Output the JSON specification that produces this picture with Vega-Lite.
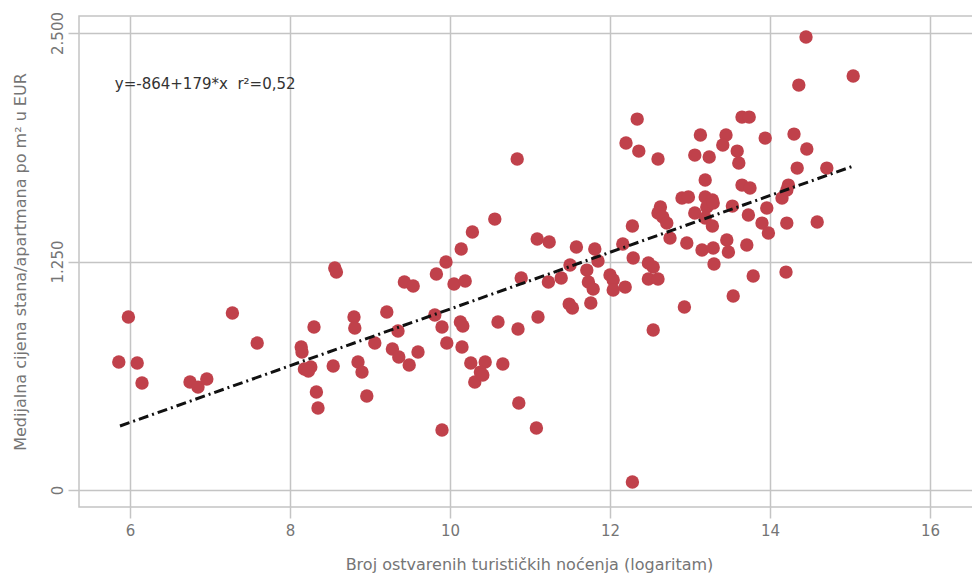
{
  "$schema": "https://vega.github.io/schema/vega-lite/v6.json",
  "width": 900,
  "height": 491,
  "autosize": "none",
  "padding": {"left": 79, "top": 16, "right": 0, "bottom": 69},
  "background": "white",
  "config": {
    "view": {"stroke": "#c4c4c4", "strokeWidth": 1.5},
    "font": "DejaVu Sans"
  },
  "datasets": {
    "pts": [
      {"x": 5.86, "y": 700}, {"x": 5.98, "y": 946}, {"x": 6.09, "y": 695}, {"x": 6.15, "y": 585},
      {"x": 7.28, "y": 968}, {"x": 7.59, "y": 804}, {"x": 6.75, "y": 591}, {"x": 6.85, "y": 563},
      {"x": 6.96, "y": 607}, {"x": 8.14, "y": 782}, {"x": 8.15, "y": 755}, {"x": 8.18, "y": 662},
      {"x": 8.26, "y": 673}, {"x": 8.23, "y": 651}, {"x": 8.30, "y": 892}, {"x": 8.33, "y": 536},
      {"x": 8.35, "y": 449}, {"x": 8.54, "y": 678}, {"x": 8.56, "y": 1214}, {"x": 8.58, "y": 1192},
      {"x": 8.80, "y": 946}, {"x": 8.81, "y": 886}, {"x": 8.85, "y": 700}, {"x": 8.90, "y": 645},
      {"x": 8.96, "y": 514}, {"x": 9.06, "y": 804}, {"x": 9.21, "y": 974}, {"x": 9.35, "y": 870},
      {"x": 9.28, "y": 771}, {"x": 9.36, "y": 728}, {"x": 9.49, "y": 684}, {"x": 9.60, "y": 755},
      {"x": 9.43, "y": 1138}, {"x": 9.54, "y": 1116},
      {"x": 9.95, "y": 1247}, {"x": 9.83, "y": 1182}, {"x": 10.05, "y": 1127}, {"x": 10.19, "y": 1143},
      {"x": 10.14, "y": 1318}, {"x": 10.28, "y": 1411}, {"x": 10.56, "y": 1482}, {"x": 10.84, "y": 1811},
      {"x": 9.81, "y": 957}, {"x": 9.90, "y": 892}, {"x": 10.13, "y": 919}, {"x": 10.16, "y": 897},
      {"x": 9.96, "y": 804}, {"x": 10.15, "y": 782}, {"x": 10.26, "y": 695}, {"x": 10.44, "y": 700},
      {"x": 10.38, "y": 645}, {"x": 10.31, "y": 591}, {"x": 10.41, "y": 629}, {"x": 10.66, "y": 689},
      {"x": 10.86, "y": 476}, {"x": 11.08, "y": 339}, {"x": 9.90, "y": 328}, {"x": 10.60, "y": 919},
      {"x": 10.85, "y": 881}, {"x": 11.10, "y": 946}, {"x": 11.09, "y": 1373}, {"x": 11.24, "y": 1357},
      {"x": 10.89, "y": 1160}, {"x": 11.23, "y": 1138}, {"x": 11.39, "y": 1160}, {"x": 11.50, "y": 1231},
      {"x": 11.58, "y": 1329}, {"x": 11.81, "y": 1318}, {"x": 11.85, "y": 1253}, {"x": 11.71, "y": 1203},
      {"x": 11.73, "y": 1138}, {"x": 11.79, "y": 1099}, {"x": 11.49, "y": 1017}, {"x": 11.53, "y": 996},
      {"x": 11.76, "y": 1023}, {"x": 12.00, "y": 1176}, {"x": 12.04, "y": 1149}, {"x": 12.04, "y": 1094},
      {"x": 12.19, "y": 1110}, {"x": 12.16, "y": 1346}, {"x": 12.29, "y": 1269}, {"x": 12.48, "y": 1242},
      {"x": 12.54, "y": 1220}, {"x": 12.48, "y": 1154}, {"x": 12.60, "y": 1154}, {"x": 12.54, "y": 875},
      {"x": 12.93, "y": 1001}, {"x": 12.28, "y": 44}, {"x": 12.34, "y": 2029}, {"x": 12.20, "y": 1898},
      {"x": 12.36, "y": 1854}, {"x": 12.60, "y": 1811}, {"x": 12.75, "y": 1378}, {"x": 12.96, "y": 1351},
      {"x": 13.15, "y": 1313}, {"x": 13.29, "y": 1324}, {"x": 13.46, "y": 1368}, {"x": 13.48, "y": 1302},
      {"x": 13.30, "y": 1236}, {"x": 13.54, "y": 1061}, {"x": 12.28, "y": 1444}, {"x": 12.63, "y": 1548},
      {"x": 12.60, "y": 1515}, {"x": 12.66, "y": 1493}, {"x": 12.71, "y": 1460}, {"x": 12.90, "y": 1597},
      {"x": 12.98, "y": 1603}, {"x": 13.19, "y": 1603}, {"x": 13.28, "y": 1586}, {"x": 13.21, "y": 1548},
      {"x": 13.06, "y": 1515}, {"x": 13.19, "y": 1488}, {"x": 13.28, "y": 1444}, {"x": 13.53, "y": 1553},
      {"x": 13.19, "y": 1696}, {"x": 13.13, "y": 1942}, {"x": 13.06, "y": 1832}, {"x": 13.24, "y": 1822},
      {"x": 13.45, "y": 1942}, {"x": 13.41, "y": 1887}, {"x": 13.59, "y": 1854}, {"x": 13.61, "y": 1789},
      {"x": 13.65, "y": 2040}, {"x": 13.74, "y": 2040}, {"x": 13.94, "y": 1925}, {"x": 13.65, "y": 1668},
      {"x": 13.75, "y": 1652}, {"x": 13.73, "y": 1504}, {"x": 13.96, "y": 1543}, {"x": 13.90, "y": 1460},
      {"x": 13.98, "y": 1406}, {"x": 13.71, "y": 1340}, {"x": 13.79, "y": 1171}, {"x": 14.15, "y": 1597},
      {"x": 14.23, "y": 1668}, {"x": 14.21, "y": 1641}, {"x": 14.21, "y": 1460}, {"x": 14.20, "y": 1192},
      {"x": 14.59, "y": 1466}, {"x": 14.30, "y": 1947}, {"x": 14.46, "y": 1865}, {"x": 14.34, "y": 1761},
      {"x": 14.71, "y": 1761}, {"x": 14.36, "y": 2215}, {"x": 14.45, "y": 2478}, {"x": 15.04, "y": 2265},
      {"x": 13.29, "y": 1570}
    ],
    "fit": [
      {"x": 5.875, "y": 350},
      {"x": 15.04, "y": 1772}
    ],
    "eq": [
      {"x": 5.81, "y": 2221, "label": "y=-864+179*x\u00a0\u00a0r²=0,52"}
    ]
  },
  "encoding": {
    "x": {
      "field": "x",
      "type": "quantitative",
      "scale": {"domain": [5.3625, 16.6125], "nice": false, "zero": false},
      "axis": {
        "values": [6, 8, 10, 12, 14, 16],
        "grid": true,
        "gridColor": "#c4c4c4",
        "gridWidth": 1.5,
        "domain": false,
        "ticks": true,
        "tickSize": 11,
        "tickColor": "#c4c4c4",
        "tickWidth": 1.5,
        "labelPadding": 5,
        "labelFontSize": 15,
        "labelColor": "#757575",
        "labelFont": "DejaVu Sans",
        "title": "Broj ostvarenih turističkih noćenja (logaritam)",
        "titleFontSize": 16,
        "titleFontWeight": "normal",
        "titleColor": "#757575",
        "titleFont": "DejaVu Sans",
        "titlePadding": 18
      }
    },
    "y": {
      "field": "y",
      "type": "quantitative",
      "scale": {"domain": [-93, 2593], "nice": false, "zero": false},
      "axis": {
        "values": [0, 1250, 2500],
        "labelExpr": "replace(format(datum.value, ','), ',', '.')",
        "grid": true,
        "gridColor": "#c4c4c4",
        "gridWidth": 1.5,
        "domain": false,
        "ticks": true,
        "tickSize": 11,
        "tickColor": "#c4c4c4",
        "tickWidth": 1.5,
        "labelAngle": -90,
        "labelAlign": "center",
        "labelBaseline": "bottom",
        "labelPadding": 3,
        "labelFontSize": 15,
        "labelColor": "#757575",
        "labelFont": "DejaVu Sans",
        "title": "Medijalna cijena stana/apartmana po m² u EUR",
        "titleFontSize": 16,
        "titleFontWeight": "normal",
        "titleColor": "#757575",
        "titleFont": "DejaVu Sans",
        "titlePadding": 22
      }
    }
  },
  "layer": [
    {
      "data": {"name": "pts"},
      "mark": {"type": "circle", "size": 180, "color": "#c0414b", "opacity": 1}
    },
    {
      "data": {"name": "fit"},
      "mark": {"type": "line", "color": "#111111", "strokeWidth": 3, "strokeDash": [10, 4, 2, 4]}
    },
    {
      "data": {"name": "eq"},
      "mark": {"type": "text", "align": "left", "baseline": "middle", "fontSize": 15, "color": "#333333", "font": "DejaVu Sans"},
      "encoding": {"text": {"field": "label"}}
    }
  ]
}
